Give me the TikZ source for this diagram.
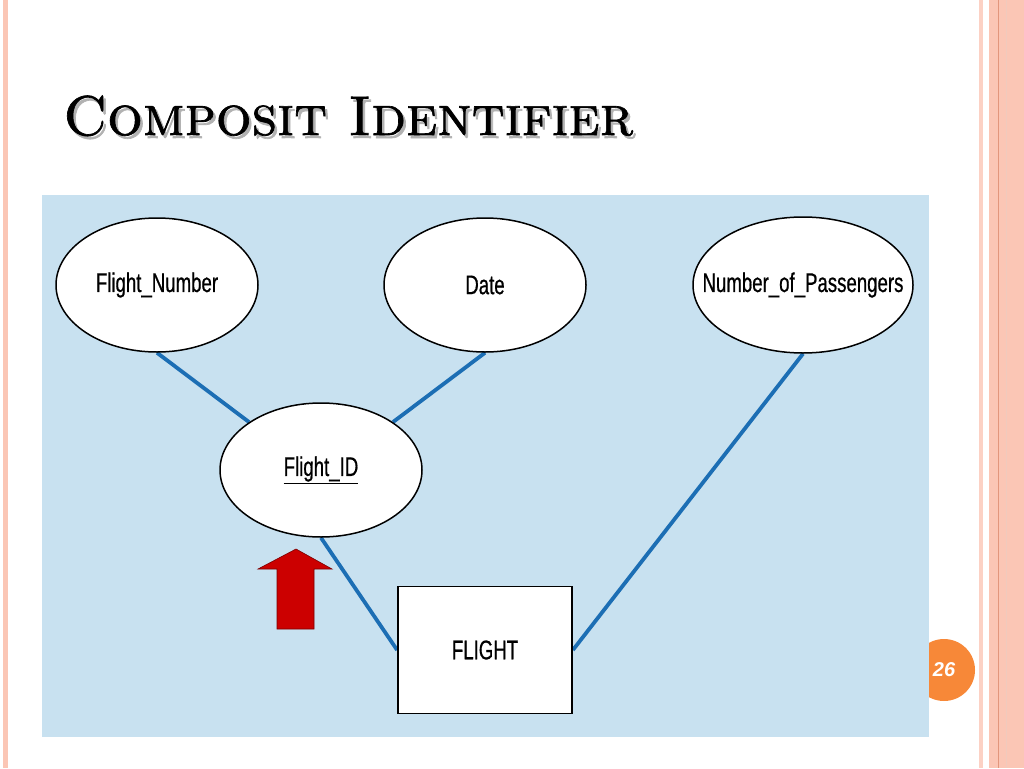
\documentclass[tikz,border=0pt]{standalone}
\usepackage{fontspec}
\newfontfamily\erfont[FakeStretch=0.69,FakeBold=0.6]{Liberation Sans}
\newfontfamily\numfont{Liberation Sans}
\newfontfamily\titlefont[FakeBold=1.2]{Latin Modern Roman Caps}
\usetikzlibrary{shapes.geometric,backgrounds}

\definecolor{panelblue}{RGB}{200,225,240}
\definecolor{linkblue}{RGB}{28,110,180}
\definecolor{rimpink}{RGB}{251,198,181}
\definecolor{rimline}{RGB}{226,150,124}
\definecolor{pageorange}{RGB}{247,136,56}
\definecolor{arrowred}{RGB}{204,0,0}

\begin{document}
\begin{tikzpicture}[x=1pt,y=-1pt,
    attr/.style={ellipse, draw=black, line width=1.5pt, fill=white,
      minimum width=202pt, minimum height=134pt, inner sep=0pt,
      font=\erfont\fontsize{27}{30}\selectfont},
    entity/.style={rectangle, draw=black, line width=1.8pt, fill=white,
      minimum width=174pt, minimum height=127pt,
      font=\erfont\fontsize{27}{30}\selectfont},
    link/.style={draw=linkblue, line width=3.8pt},
    heading/.style={anchor=base west, inner sep=0pt,
      font=\titlefont\fontsize{56}{64}\selectfont}]
    \useasboundingbox (0,0) rectangle (1024,768);

    % Bordas da pagina
    \fill[rimpink] (3,0) rectangle (8,768);
    \fill[rimpink!80] (979,0) rectangle (983,768);
    \fill[rimpink] (989,0) rectangle (1024,768);
    \draw[rimline, line width=1pt] (998.5,0) -- (998.5,768);
    \draw[rimline!50, line width=1pt] (1006,0) -- (1006,768);

    % Titulo com sombra
    \node[heading, text=black!30] (titleshadow) at (65.5,138) {Composit Identifier};
    \node[heading] (title) at (63,135) {Composit Identifier};

    % Atributos e entidade
    \node[attr] (fnum) at (157,285) {\makebox[0pt]{Flight\_Number}};
    \node[attr] (date) at (485,285) {\makebox[0pt]{Date}};
    \node[attr, minimum width=220pt, minimum height=136pt] (npass) at (803,285) {\makebox[0pt]{Number\_of\_Passengers}};
    \node[attr] (fid) at (321,470) {\makebox[0pt]{\underline{Flight\_ID}}};
    \node[entity] (flight) at (485,650) {FLIGHT};

    \begin{scope}[on background layer]
      % Numero da pagina (atras do painel)
      \node[circle, fill=pageorange, minimum size=62pt, inner sep=0pt, text=white,
        font=\numfont\bfseries\itshape\fontsize{20}{24}\selectfont] (pgnum) at (944,670) {26};
      \fill[panelblue] (42,195) rectangle (929,737); % painel azul

      % Ligacoes
      \draw[link] (fnum.south) -- (fid.north west);
      \draw[link] (date.south) -- (fid.north east);
      \draw[link] (fid.south) -- (flight.west);
      \draw[link] (npass.south) -- (flight.east);
    \end{scope}

    % Seta vermelha
    \filldraw[fill=arrowred, draw=arrowred!60!black, line width=0.6pt]
      (277,629) -- (277,569) -- (258,569) -- (296,549) -- (332,569) -- (314,569) -- (314,629) -- cycle;
\end{tikzpicture}
\end{document}
